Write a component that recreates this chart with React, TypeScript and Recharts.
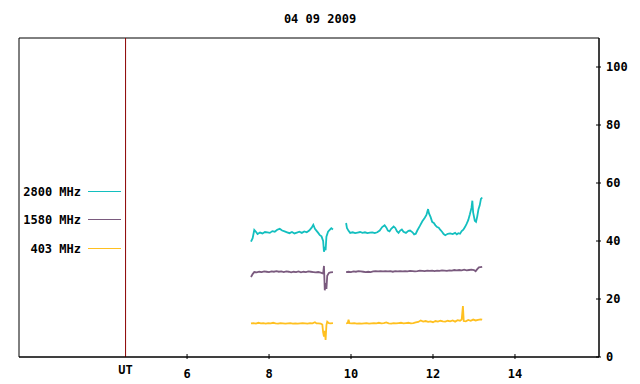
import { Line, LineChart, ReferenceArea, ReferenceLine, XAxis, YAxis } from "recharts";

const FONT = "'DejaVu Sans Mono', monospace";

// UT hours and flux for each frequency; null marks the data gap
const hours2800 = [
  7.56, 7.6, 7.64, 7.68, 7.72, 7.78, 7.84, 7.9, 7.96, 8.02, 8.08, 8.14, 8.2, 8.26, 8.32, 8.38, 8.44, 8.5, 8.56, 8.62,
  8.68, 8.74, 8.8, 8.86, 8.92, 8.98, 9.04, 9.08, 9.12, 9.16, 9.2, 9.24, 9.28, 9.32, 9.34, 9.36, 9.38, 9.4, 9.44, 9.48,
  9.52, 9.56, 9.7, 9.88, 9.9, 9.94, 9.98, 10.04, 10.1, 10.16, 10.22, 10.28, 10.34, 10.4, 10.46, 10.52, 10.58, 10.64,
  10.7, 10.76, 10.82, 10.86, 10.9, 10.94, 10.98, 11.04, 11.08, 11.12, 11.16, 11.2, 11.24, 11.28, 11.34, 11.4, 11.44,
  11.5, 11.54, 11.58, 11.62, 11.68, 11.74, 11.8, 11.84, 11.88, 11.9, 11.94, 11.98, 12.02, 12.06, 12.1, 12.14, 12.18,
  12.22, 12.26, 12.3, 12.36, 12.42, 12.48, 12.54, 12.58, 12.62, 12.66, 12.7, 12.74, 12.78, 12.82, 12.86, 12.9, 12.94,
  12.96, 12.98, 13.02, 13.05, 13.08, 13.11, 13.14, 13.17, 13.2,
];
const flux2800 = [
  39.8, 41.0, 43.8, 43.2, 42.4, 42.9, 42.6, 43.1, 43.0, 42.8, 43.4, 43.2, 43.9, 44.2, 43.6, 43.3, 43.0, 42.7, 43.1, 42.6,
  42.9, 43.2, 42.8, 43.3, 43.0, 43.6, 44.6, 45.6, 44.2, 43.5, 42.8, 42.0, 41.6, 40.0, 36.3, 38.0, 36.8, 41.5, 43.2, 43.8,
  44.4, 44.0, null, 46.2, 44.5, 43.5, 42.8, 43.0, 42.7, 42.9, 43.1, 42.8, 43.0, 42.7, 42.9, 43.0, 42.7, 43.0,
  43.6, 44.8, 45.4, 44.7, 43.6, 43.3, 44.2, 45.0, 44.5, 43.4, 42.8, 43.6, 44.0, 43.2, 42.8, 43.5, 43.6,
  43.0, 42.3, 42.5, 43.7, 45.2, 46.8, 48.0, 49.0, 51.0, 49.6, 48.3, 46.6, 46.2, 45.4, 44.8, 44.6, 43.8,
  43.2, 42.4, 42.0, 42.5, 42.6, 42.4, 42.8, 42.3, 42.7, 42.5, 43.4, 43.9, 44.8, 45.9, 47.2, 49.2, 51.5,
  53.9, 49.8, 47.0, 46.6, 48.5, 51.0, 52.3, 54.5, 55.0,
];

const hours1580 = [
  7.56, 7.6, 7.64, 7.7, 7.76, 7.82, 7.88, 7.94, 8.0, 8.06, 8.12, 8.18, 8.24, 8.3, 8.36, 8.42, 8.48, 8.54, 8.6, 8.66,
  8.72, 8.78, 8.84, 8.9, 8.96, 9.02, 9.08, 9.14, 9.2, 9.26, 9.32, 9.34, 9.36, 9.38, 9.4, 9.42, 9.46, 9.5, 9.56, 9.7,
  9.88, 9.94, 10.0, 10.06, 10.12, 10.18, 10.24, 10.3, 10.36, 10.42, 10.48, 10.54, 10.6, 10.66, 10.72, 10.78, 10.84,
  10.9, 10.96, 11.02, 11.08, 11.14, 11.2, 11.26, 11.32, 11.38, 11.44, 11.5, 11.56, 11.62, 11.68, 11.74, 11.8, 11.86,
  11.92, 11.98, 12.04, 12.1, 12.16, 12.22, 12.28, 12.34, 12.4, 12.46, 12.52, 12.58, 12.64, 12.7, 12.76, 12.82, 12.88,
  12.94, 13.0, 13.04, 13.08, 13.12, 13.16, 13.2,
];
const flux1580 = [
  27.6, 28.6, 29.3, 29.2, 29.4, 29.3, 29.5, 29.4, 29.3, 29.5, 29.4, 29.6, 29.4, 29.5, 29.3, 29.5, 29.4, 29.2, 29.4, 29.3,
  29.5, 29.2, 29.4, 29.3, 29.5, 29.4, 29.3, 29.2, 29.3, 29.1, 28.8, 31.4, 23.0, 25.5, 23.5, 28.0, 29.0, 29.2, 29.3, null,
  29.3, 29.4, 29.3, 29.5, 29.4, 29.6, 29.5, 29.4, 29.3, 29.4, 29.3, 29.5, 29.6, 29.5, 29.6, 29.5, 29.6,
  29.5, 29.6, 29.4, 29.6, 29.5, 29.6, 29.5, 29.6, 29.5, 29.7, 29.6, 29.5, 29.6, 29.8, 29.7, 29.6, 29.8,
  29.7, 29.8, 29.6, 29.8, 29.7, 29.9, 29.8, 29.7, 29.9, 29.8, 30.0, 29.9, 30.0, 29.9, 30.1, 29.9, 30.0,
  30.1, 30.0, 29.6, 30.3, 30.9, 31.0, 31.1,
];

const hours403 = [
  7.56, 7.62, 7.68, 7.74, 7.8, 7.86, 7.92, 7.98, 8.04, 8.1, 8.16, 8.22, 8.28, 8.34, 8.4, 8.46, 8.52, 8.58, 8.64, 8.7,
  8.76, 8.82, 8.88, 8.94, 9.0, 9.06, 9.12, 9.16, 9.2, 9.26, 9.3, 9.32, 9.34, 9.36, 9.38, 9.4, 9.42, 9.46, 9.5, 9.56,
  9.7, 9.88, 9.92, 9.94, 9.96, 10.02, 10.08, 10.14, 10.2, 10.26, 10.32, 10.38, 10.44, 10.5, 10.56, 10.62, 10.68,
  10.74, 10.8, 10.86, 10.92, 10.98, 11.04, 11.1, 11.16, 11.22, 11.28, 11.34, 11.4, 11.46, 11.52, 11.58, 11.64, 11.7,
  11.76, 11.82, 11.88, 11.94, 12.0, 12.06, 12.12, 12.18, 12.24, 12.3, 12.36, 12.42, 12.48, 12.54, 12.6, 12.66, 12.7,
  12.73, 12.75, 12.8, 12.86, 12.92, 12.98, 13.04, 13.1, 13.16, 13.2,
];
const flux403 = [
  11.6, 11.7, 11.5, 11.8, 11.6, 11.7, 11.5, 11.7, 11.6, 11.8, 11.6, 11.5, 11.7, 11.6, 11.5, 11.6, 11.7, 11.5, 11.6, 11.5,
  11.6, 11.7, 11.6, 11.5, 11.7, 11.6, 12.0, 11.6, 11.6, 11.5, 11.2, 8.5, 7.0, 9.0, 5.9, 11.0, 12.2, 11.7, 11.6, 11.7,
  null, 11.6, 11.7, 12.9, 11.7, 11.6, 11.7, 11.5, 11.6, 11.5, 11.6, 11.7, 11.5, 11.6, 11.7, 11.6, 11.8,
  11.6, 11.7, 11.9, 11.6, 11.5, 11.7, 11.6, 11.7, 11.8, 11.6, 11.7, 11.8, 11.6, 11.7, 11.9, 12.1, 12.6,
  12.2, 12.4, 12.1, 12.3, 12.0, 12.4, 12.2, 12.5, 12.3, 12.2, 12.5, 12.3, 12.6, 12.2, 12.7, 12.5, 12.9,
  17.6, 12.4, 12.3, 12.8, 12.5, 12.9, 12.6, 12.8, 13.0, 12.9,
];

const xTicks = [4.5, 6, 8, 10, 12, 14];
const yTicks = [0, 20, 40, 60, 80, 100];

const toRows = (hs: number[], vs: (number | null)[]) => hs.map((h, i) => ({ h, v: vs[i] }));

const series = [
  { name: "2800 MHz", color: "#13bfbf", data: toRows(hours2800, flux2800) },
  { name: "1580 MHz", color: "#7a5a7e", data: toRows(hours1580, flux1580) },
  { name: "403 MHz", color: "#ffc020", data: toRows(hours403, flux403) },
];

function XTick(props: any) {
  const { x, y, payload } = props;
  if (payload.value === 4.5) {
    return (
      <text x={x} y={y + 15} textAnchor="middle" fontFamily={FONT} fontSize={12} fontWeight="bold" fill="#000">
        UT
      </text>
    );
  }
  return (
    <g>
      <line x1={x} x2={x} y1={y} y2={y - 5} stroke="#000" />
      <text x={x} y={y + 19} textAnchor="middle" fontFamily={FONT} fontSize={12} fontWeight="bold" fill="#000">
        {payload.value}
      </text>
    </g>
  );
}

function YTick(props: any) {
  const { x, y, payload } = props;
  return (
    <g>
      <line x1={x - 5} x2={x} y1={y} y2={y} stroke="#000" />
      <text x={x + 5} y={y + 4} textAnchor="start" fontFamily={FONT} fontSize={12} fontWeight="bold" fill="#000">
        {payload.value}
      </text>
    </g>
  );
}

// key drawn beside the plot, left of the UT line
function KeyBox() {
  const rows = [11.5, 39.5, 68.5];
  return (
    <svg width={125} height={80} style={{ position: "absolute", left: 0, top: 180 }}>
      {series.map((s, i) => (
        <g key={s.name}>
          <text x={81} y={rows[i] + 4} textAnchor="end" fontFamily={FONT} fontSize={12} fontWeight="bold" fill="#000">
            {s.name}
          </text>
          <line x1={88} x2={121} y1={rows[i]} y2={rows[i]} stroke={s.color} strokeWidth={1} />
        </g>
      ))}
    </svg>
  );
}

export default function App() {
  return (
    <div style={{ position: "absolute", left: 0, top: 0, width: 640, height: 384, background: "#fff" }}>
      <div
        style={{
          position: "absolute",
          top: 12,
          width: 640,
          textAlign: "center",
          fontFamily: FONT,
          fontSize: 12,
          fontWeight: "bold",
        }}
      >
        04 09 2009
      </div>
      <LineChart width={640} height={384} margin={{ top: 38, right: 0, bottom: 0, left: 19 }}>
        <XAxis
          dataKey="h"
          type="number"
          domain={[1.9, 16.05]}
          allowDataOverflow
          ticks={xTicks}
          tick={<XTick />}
          tickLine={false}
          tickSize={0}
          height={27}
          axisLine={{ stroke: "#000" }}
        />
        <YAxis
          orientation="right"
          type="number"
          domain={[0, 110]}
          allowDataOverflow
          ticks={yTicks}
          tick={<YTick />}
          tickLine={false}
          tickSize={0}
          width={41}
          axisLine={{ stroke: "#000" }}
        />
        <ReferenceArea x1={1.9} x2={16.05} y1={0} y2={110} fill="none" stroke="#000" ifOverflow="visible" />
        <ReferenceLine x={4.5} stroke="#8b0000" />
        {series.map((s) => (
          <Line
            key={s.name}
            data={s.data}
            dataKey="v"
            name={s.name}
            stroke={s.color}
            strokeWidth={1.8}
            dot={false}
            connectNulls={false}
            isAnimationActive={false}
          />
        ))}
      </LineChart>
      <KeyBox />
    </div>
  );
}
